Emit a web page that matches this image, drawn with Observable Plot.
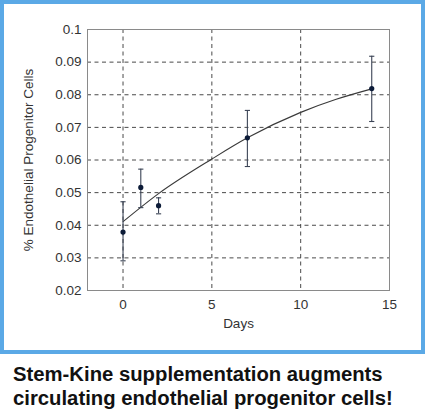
<!DOCTYPE html>
<html>
<head>
<meta charset="utf-8">
<script src="https://cdn.jsdelivr.net/npm/d3@7"></script>
<script src="https://cdn.jsdelivr.net/npm/@observablehq/plot@0.6"></script>
<style>
  html, body { margin: 0; padding: 0; background: #fff; }
  body { width: 425px; height: 410px; overflow: hidden; }
  #frame {
    width: 425px; height: 354px; box-sizing: border-box;
    border: 4px solid #5ba9e6; background: #fff;
  }
  #frame svg { display: block; }
  #caption {
    margin: 8px 0 0 13px;
    font-family: "Liberation Sans", Arial, sans-serif;
    font-weight: bold; font-size: 20.3px; line-height: 24px; color: #111;
    white-space: nowrap;
  }
</style>
</head>
<body>
<div id="frame"></div>
<div id="caption">Stem-Kine supplementation augments<br>circulating endothelial progenitor cells!</div>
<script>
// Measured points (mean ± error)
const days = [0, 1, 2, 7, 14];
const means = [0.0379, 0.0516, 0.0460, 0.0668, 0.0819];
const errLow = [0.0291, 0.0454, 0.0435, 0.0580, 0.0718];
const errHigh = [0.0472, 0.0572, 0.0484, 0.0752, 0.0918];

// Fitted curve
const fitDays = [0, 2, 5, 7, 10, 12, 14];
const fitValues = [0.0411, 0.0497, 0.0603, 0.0668, 0.0746, 0.0786, 0.0818];

// Ticks
const xTicks = [0, 5, 10, 15];
const yTicks = [0.02, 0.03, 0.04, 0.05, 0.06, 0.07, 0.08, 0.09, 0.1];
const yTickLabels = ["0.02", "0.03", "0.04", "0.05", "0.06", "0.07", "0.08", "0.09", "0.1"];
const xGrid = [0, 5, 10];
const yGrid = [0.03, 0.04, 0.05, 0.06, 0.07, 0.08, 0.09];

const points = days.map((d, i) => ({day: d, mean: means[i], lo: errLow[i], hi: errHigh[i]}));
const fit = fitDays.map((d, i) => ({day: d, value: fitValues[i]}));

const capSymbol = {
  draw(context, size) {
    context.moveTo(-2.6, 0);
    context.lineTo(2.6, 0);
  }
};

const chart = Plot.plot({
  width: 417,
  height: 346,
  marginLeft: 83,
  marginRight: 32,
  marginTop: 25,
  marginBottom: 60,
  style: {fontFamily: "'Liberation Sans', Arial, sans-serif", fontSize: "13.5px", color: "#333", background: "#fff"},
  x: {domain: [-2, 15]},
  y: {domain: [0.02, 0.1]},
  marks: [
    Plot.gridX(xGrid, {stroke: "#4a4a4a", strokeOpacity: 1, strokeDasharray: "4,3.5"}),
    Plot.gridY(yGrid, {stroke: "#4a4a4a", strokeOpacity: 1, strokeDasharray: "4,3.5"}),
    Plot.frame({stroke: "#8a8a8a"}),
    Plot.axisX({ticks: xTicks, tickSize: 0, tickPadding: 9, label: "Days", labelAnchor: "center", labelArrow: "none", labelOffset: 37}),
    Plot.axisY({ticks: yTicks, tickFormat: (d) => yTickLabels[yTicks.indexOf(d)], tickSize: 0, tickPadding: 6,
      label: "% Endothelial Progenitor Cells", labelAnchor: "center", labelArrow: "none", labelOffset: 64}),
    Plot.line(fit, {x: "day", y: "value", curve: "monotone-x", stroke: "#3a3a3a", strokeWidth: 1.1}),
    Plot.ruleX(points, {x: "day", y1: "lo", y2: "hi", stroke: "#3b4456", strokeWidth: 1.1}),
    Plot.dot(points, {x: "day", y: "lo", symbol: capSymbol, stroke: "#3b4456", strokeWidth: 1.1, fill: "none"}),
    Plot.dot(points, {x: "day", y: "hi", symbol: capSymbol, stroke: "#3b4456", strokeWidth: 1.1, fill: "none"}),
    Plot.dot(points, {x: "day", y: "mean", r: 2.6, fill: "#0c1b38", stroke: "none"})
  ]
});
document.getElementById("frame").appendChild(chart);
</script>
</body>
</html>
